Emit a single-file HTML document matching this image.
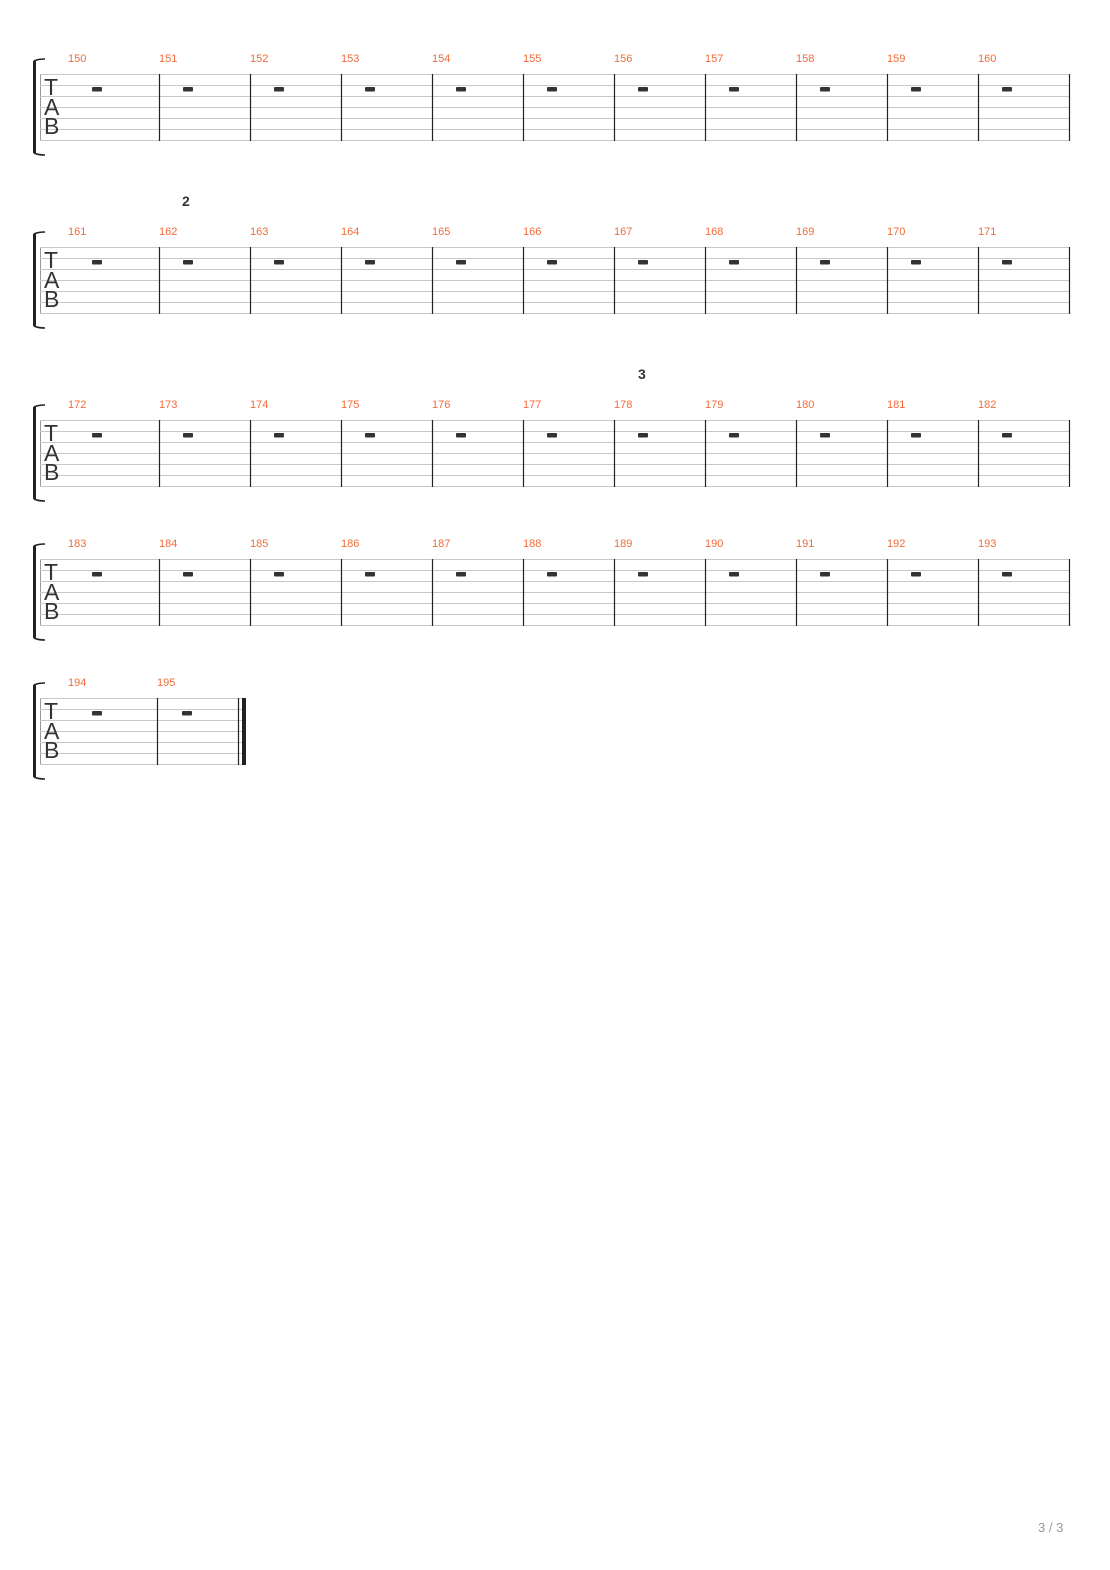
<!DOCTYPE html>
<html><head><meta charset="utf-8"><style>
html,body{margin:0;padding:0;background:#fff;width:1110px;height:1570px;overflow:hidden}
svg{display:block}
.n{font-family:"Liberation Sans",sans-serif;font-size:11px;fill:#f26b3a}
.t{font-family:"Liberation Sans",sans-serif;font-size:23px;fill:#333}
.m{font-family:"Liberation Sans",sans-serif;font-size:14px;font-weight:bold;fill:#333}
</style></head><body>
<svg width="1110" height="1570" viewBox="0 0 1110 1570" xmlns="http://www.w3.org/2000/svg">
<defs>
<g id="br">
<path d="M34.5 -13 L34.5 79" stroke="#222" stroke-width="3" fill="none"/>
<path d="M34 -13 Q38 -15 45 -15" stroke="#222" stroke-width="1.6" fill="none"/>
<path d="M34 79 Q38 81 45 81" stroke="#222" stroke-width="1.6" fill="none"/>
<line x1="40.5" y1="0" x2="40.5" y2="66" stroke="#999" stroke-width="1"/>
</g>
<g id="lines11">
<g stroke="#c8c8c8" stroke-width="1">
<line x1="40" y1="0.5" x2="1070" y2="0.5"/><line x1="40" y1="11.5" x2="1070" y2="11.5"/>
<line x1="40" y1="22.5" x2="1070" y2="22.5"/><line x1="40" y1="33.5" x2="1070" y2="33.5"/>
<line x1="40" y1="44.5" x2="1070" y2="44.5"/><line x1="40" y1="55.5" x2="1070" y2="55.5"/>
<line x1="40" y1="66.5" x2="1070" y2="66.5"/>
</g>
<g stroke="#222" stroke-width="1.2">
<line x1="159.5" y1="0" x2="159.5" y2="67"/><line x1="250.5" y1="0" x2="250.5" y2="67"/>
<line x1="341.5" y1="0" x2="341.5" y2="67"/><line x1="432.5" y1="0" x2="432.5" y2="67"/>
<line x1="523.5" y1="0" x2="523.5" y2="67"/><line x1="614.5" y1="0" x2="614.5" y2="67"/>
<line x1="705.5" y1="0" x2="705.5" y2="67"/><line x1="796.5" y1="0" x2="796.5" y2="67"/>
<line x1="887.5" y1="0" x2="887.5" y2="67"/><line x1="978.5" y1="0" x2="978.5" y2="67"/>
<line x1="1069.5" y1="0" x2="1069.5" y2="67"/>
</g>
<g fill="#333">
<rect x="92" y="13" width="10" height="4.5" rx="1"/><rect x="183" y="13" width="10" height="4.5" rx="1"/>
<rect x="274" y="13" width="10" height="4.5" rx="1"/><rect x="365" y="13" width="10" height="4.5" rx="1"/>
<rect x="456" y="13" width="10" height="4.5" rx="1"/><rect x="547" y="13" width="10" height="4.5" rx="1"/>
<rect x="638" y="13" width="10" height="4.5" rx="1"/><rect x="729" y="13" width="10" height="4.5" rx="1"/>
<rect x="820" y="13" width="10" height="4.5" rx="1"/><rect x="911" y="13" width="10" height="4.5" rx="1"/>
<rect x="1002" y="13" width="10" height="4.5" rx="1"/>
</g>
</g>
</defs>

<!-- System 1 -->
<g transform="translate(0,74)">
<use href="#br"/><use href="#lines11"/>
<text class="t" x="44" y="21">T</text><text class="t" x="44" y="41">A</text><text class="t" x="44" y="60">B</text>
<g class="n"><text x="68" y="-12">150</text><text x="159" y="-12">151</text><text x="250" y="-12">152</text><text x="341" y="-12">153</text><text x="432" y="-12">154</text><text x="523" y="-12">155</text><text x="614" y="-12">156</text><text x="705" y="-12">157</text><text x="796" y="-12">158</text><text x="887" y="-12">159</text><text x="978" y="-12">160</text></g>
</g>

<text class="m" x="182" y="206">2</text>
<!-- System 2 -->
<g transform="translate(0,247)">
<use href="#br"/><use href="#lines11"/>
<text class="t" x="44" y="21">T</text><text class="t" x="44" y="41">A</text><text class="t" x="44" y="60">B</text>
<g class="n"><text x="68" y="-12">161</text><text x="159" y="-12">162</text><text x="250" y="-12">163</text><text x="341" y="-12">164</text><text x="432" y="-12">165</text><text x="523" y="-12">166</text><text x="614" y="-12">167</text><text x="705" y="-12">168</text><text x="796" y="-12">169</text><text x="887" y="-12">170</text><text x="978" y="-12">171</text></g>
</g>

<text class="m" x="638" y="379">3</text>
<!-- System 3 -->
<g transform="translate(0,420)">
<use href="#br"/><use href="#lines11"/>
<text class="t" x="44" y="21">T</text><text class="t" x="44" y="41">A</text><text class="t" x="44" y="60">B</text>
<g class="n"><text x="68" y="-12">172</text><text x="159" y="-12">173</text><text x="250" y="-12">174</text><text x="341" y="-12">175</text><text x="432" y="-12">176</text><text x="523" y="-12">177</text><text x="614" y="-12">178</text><text x="705" y="-12">179</text><text x="796" y="-12">180</text><text x="887" y="-12">181</text><text x="978" y="-12">182</text></g>
</g>

<!-- System 4 -->
<g transform="translate(0,559)">
<use href="#br"/><use href="#lines11"/>
<text class="t" x="44" y="21">T</text><text class="t" x="44" y="41">A</text><text class="t" x="44" y="60">B</text>
<g class="n"><text x="68" y="-12">183</text><text x="159" y="-12">184</text><text x="250" y="-12">185</text><text x="341" y="-12">186</text><text x="432" y="-12">187</text><text x="523" y="-12">188</text><text x="614" y="-12">189</text><text x="705" y="-12">190</text><text x="796" y="-12">191</text><text x="887" y="-12">192</text><text x="978" y="-12">193</text></g>
</g>

<!-- System 5 -->
<g transform="translate(0,698)">
<use href="#br"/>
<g stroke="#c8c8c8" stroke-width="1">
<line x1="40" y1="0.5" x2="246" y2="0.5"/><line x1="40" y1="11.5" x2="246" y2="11.5"/>
<line x1="40" y1="22.5" x2="246" y2="22.5"/><line x1="40" y1="33.5" x2="246" y2="33.5"/>
<line x1="40" y1="44.5" x2="246" y2="44.5"/><line x1="40" y1="55.5" x2="246" y2="55.5"/>
<line x1="40" y1="66.5" x2="246" y2="66.5"/>
</g>
<line x1="157.5" y1="0" x2="157.5" y2="67" stroke="#222" stroke-width="1.2"/>
<line x1="238.5" y1="0" x2="238.5" y2="67" stroke="#222" stroke-width="1.2"/>
<rect x="242" y="0" width="4" height="67" fill="#222"/>
<rect x="92" y="13" width="10" height="4.5" rx="1" fill="#333"/>
<rect x="182" y="13" width="10" height="4.5" rx="1" fill="#333"/>
<text class="t" x="44" y="21">T</text><text class="t" x="44" y="41">A</text><text class="t" x="44" y="60">B</text>
<g class="n"><text x="68" y="-12">194</text><text x="157" y="-12">195</text></g>
</g>

<text x="1038" y="1532" font-family="'Liberation Sans',sans-serif" font-size="13" fill="#999">3 / 3</text>
</svg>
</body></html>
